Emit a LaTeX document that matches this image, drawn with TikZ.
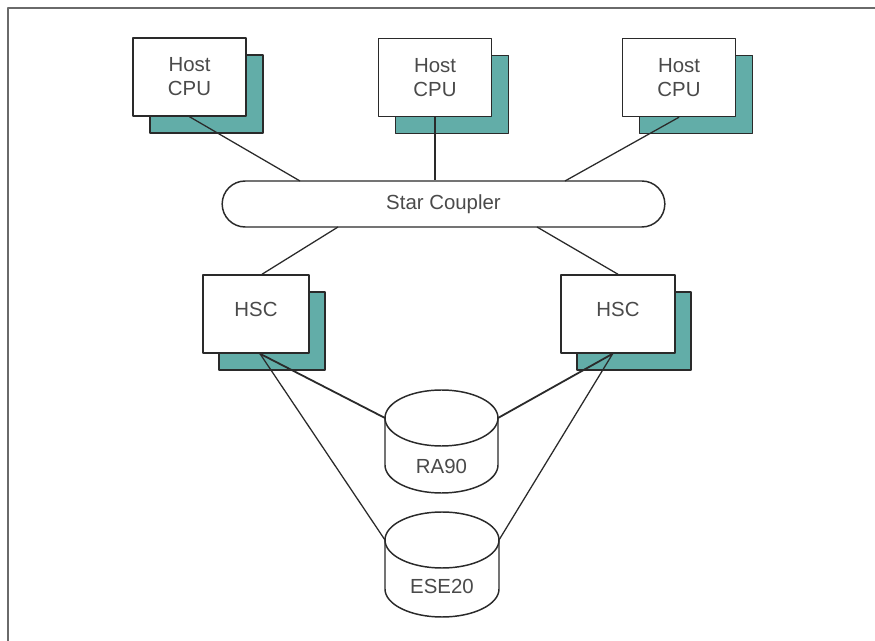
\documentclass[tikz,border=0pt]{standalone}
\usepackage{fontspec}
\setmainfont{Liberation Sans}
\begin{document}
\begin{tikzpicture}[x=0.75pt,y=-0.75pt,line join=round]
\definecolor{ink}{HTML}{2A2A2A}
\definecolor{tealbg}{HTML}{62ADA8}
\definecolor{framec}{HTML}{6A6A6A}
\tikzset{
  txt/.style={font=\fontsize{15.3}{18}\selectfont, text=ink!85},
  front/.style={draw=ink, line width=1.1pt, fill=white, inner sep=0pt, align=center,
    txt, minimum height=58.5pt},
  back/.style={draw=ink, line width=1.1pt, fill=tealbg, inner sep=0pt, minimum height=58.5pt},
  link/.style={draw=ink, line width=0.95pt},
  boldlink/.style={draw=ink, line width=1.35pt},
  disk/.style={draw=ink, line width=1.1pt, fill=white},
  lbl/.style={txt, inner sep=0pt},
}
\useasboundingbox (0,0) rectangle (875,641);
\fill[white] (0,0) rectangle (875,641);
\draw[framec, line width=1.4pt] (8,641) -- (8,8) -- (875,8);

% Host CPUs
\node[back, minimum width=84.75pt] (h1b) at (206.5,94) {};
\node[front, minimum width=84.75pt] (h1) at (189.5,77) {Host\\CPU};
\node[back, minimum width=84.75pt] (h2b) at (452,94.5) {};
\node[front, minimum width=84.75pt] (h2) at (435,77.5) {Host\\CPU};
\node[back, minimum width=84.75pt] (h3b) at (696,94.5) {};
\node[front, minimum width=84.75pt] (h3) at (679,77.5) {Host\\CPU};

% Star coupler
\node[draw=ink, line width=1.1pt, fill=white, minimum width=332pt, minimum height=34.5pt,
  rounded corners=17.25pt, inner sep=0pt, txt]
  (sc) at (443.5,204) {Star Coupler};
\coordinate (c1) at (300,181);
\coordinate (c3) at (565,181);
\coordinate (d1) at (338,227);
\coordinate (d2) at (537,227);

\draw[link] (h1.south) -- (c1);
\draw[link] (h2.south) -- (h2.south |- sc.north);
\draw[link] (h3.south) -- (c3);

% HSCs
\node[back, minimum width=79.5pt] (s1b) at (272,331) {};
\node[front, minimum width=79.5pt, text depth=7pt] (s1) at (256,314) {HSC};
\node[back, minimum width=85.5pt] (s2b) at (634,331) {};
\node[front, minimum width=85.5pt, text depth=7pt] (s2) at (618,314) {HSC};

\draw[link] (d1) -- ([xshift=4.5pt]s1.north);
\draw[link] (d2) -- (s2.north);

% disk connection points
\coordinate (raw) at (385,418);
\coordinate (rae) at (498,418);
\coordinate (esw) at (385,540);
\coordinate (ese) at (499,540);

\draw[boldlink] ([xshift=3pt]s1.south) -- (raw);
\draw[link] ([xshift=3pt]s1.south) -- (esw);
\draw[boldlink] ([xshift=-4pt]s2.south) -- (rae);
\draw[link] ([xshift=-4pt]s2.south) -- (ese);

% RA90 cylinder
\draw[disk] (raw) -- (385,465) arc[start angle=180, end angle=360, x radius=42.375pt, y radius=21pt] -- (rae);
\draw[disk] (441.5,418) ellipse[x radius=42.375pt, y radius=21pt];
\node[lbl] (ra) at (441.5,466) {RA90};

% ESE20 cylinder
\draw[disk] (esw) -- (385,589) arc[start angle=180, end angle=360, x radius=42.75pt, y radius=21pt] -- (ese);
\draw[disk] (442,540) ellipse[x radius=42.75pt, y radius=21pt];
\node[lbl] (es) at (442,586) {ESE20};
\end{tikzpicture}
\end{document}
